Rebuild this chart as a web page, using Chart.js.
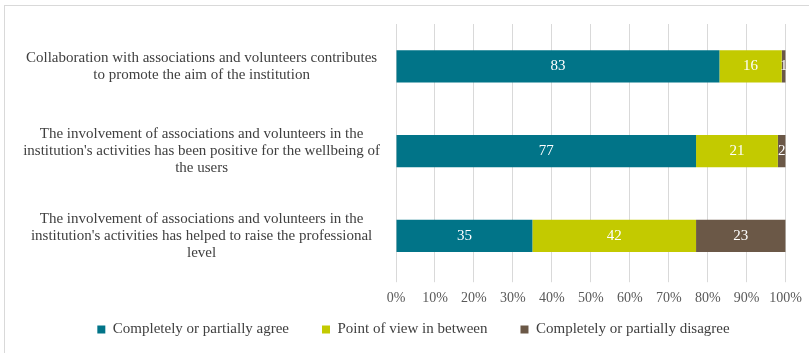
<!DOCTYPE html>
<html>
<head>
<meta charset="utf-8">
<script src="https://cdn.jsdelivr.net/npm/chart.js@4/dist/chart.umd.min.js"></script>
<style>
  html, body { margin: 0; padding: 0; background: #fff; }
  #wrap { position: absolute; left: 4px; top: 5px; width: 805px; height: 348px;
          border-top: 1px solid #d9d9d9; border-left: 1px solid #d9d9d9; }
  canvas { display: block; }
</style>
</head>
<body>
<div id="wrap"><canvas id="chart" width="805" height="348"></canvas></div>
<script>
const categories = [
  ['Collaboration with associations and volunteers contributes', 'to promote the aim of the institution'],
  ['The involvement of associations and volunteers in the', "institution's activities has been positive for the wellbeing of", 'the users'],
  ['The involvement of associations and volunteers in the', "institution's activities has helped to raise the professional", 'level']
];
const agree = [83, 77, 35];
const between = [16, 21, 42];
const disagree = [1, 2, 23];
const seriesNames = ['Completely or partially agree', 'Point of view in between', 'Completely or partially disagree'];
const colors = ['#017488', '#c3ca00', '#6b5847'];

const FONT = "'Liberation Serif', 'DejaVu Serif', serif";

// writes the value in the middle of every segment
const barLabels = {
  id: 'barLabels',
  afterDatasetsDraw(chart) {
    const ctx = chart.ctx;
    ctx.save();
    ctx.font = '15px ' + FONT;
    ctx.fillStyle = '#ffffff';
    ctx.textAlign = 'center';
    ctx.textBaseline = 'middle';
    chart.data.datasets.forEach((ds, i) => {
      chart.getDatasetMeta(i).data.forEach((bar, j) => {
        const x = (bar.x + bar.base) / 2;
        ctx.fillText(ds.data[j], x, bar.y);
      });
    });
    ctx.restore();
  }
};

// the wide item gaps come with a tall top padding; pull the legend up
// and nudge it right like in the original
const legendShift = {
  id: 'legendShift',
  afterLayout(chart) {
    const lg = chart.legend;
    lg.top -= 26;
    lg.left += 15;
    lg.right += 15;
  }
};

new Chart(document.getElementById('chart'), {
  type: 'bar',
  data: {
    labels: categories,
    datasets: [
      { label: seriesNames[0], data: agree, backgroundColor: colors[0] },
      { label: seriesNames[1], data: between, backgroundColor: colors[1] },
      { label: seriesNames[2], data: disagree, backgroundColor: colors[2] }
    ]
  },
  options: {
    indexAxis: 'y',
    responsive: false,
    animation: false,
    barPercentage: 0.76,
    categoryPercentage: 0.5,
    layout: { padding: { top: 18, right: 24, bottom: 3, left: 6 } },
    scales: {
      x: {
        stacked: true,
        min: 0,
        max: 100,
        ticks: {
          stepSize: 10,
          color: '#595959',
          font: { family: FONT, size: 14 },
          padding: 8,
          callback: v => v + '%'
        },
        grid: { color: '#d9d9d9', tickLength: 4, drawTicks: true },
        border: { display: false }
      },
      y: {
        stacked: true,
        afterFit: scale => {
          scale.width = 385;
          scale.paddingTop = 0;
          scale.paddingBottom = 0;
        },
        ticks: {
          color: '#404040',
          font: { family: FONT, size: 15, lineHeight: 1.15 },
          crossAlign: 'center',
          padding: 8,
          autoSkip: false
        },
        grid: { display: false },
        border: { display: false }
      }
    },
    plugins: {
      legend: {
        position: 'bottom',
        maxHeight: 36,
        labels: {
          color: '#404040',
          font: { family: FONT, size: 15 },
          boxWidth: 8,
          boxHeight: 8,
          padding: 33
        }
      },
      tooltip: { enabled: false }
    }
  },
  plugins: [barLabels, legendShift]
});
</script>
</body>
</html>
